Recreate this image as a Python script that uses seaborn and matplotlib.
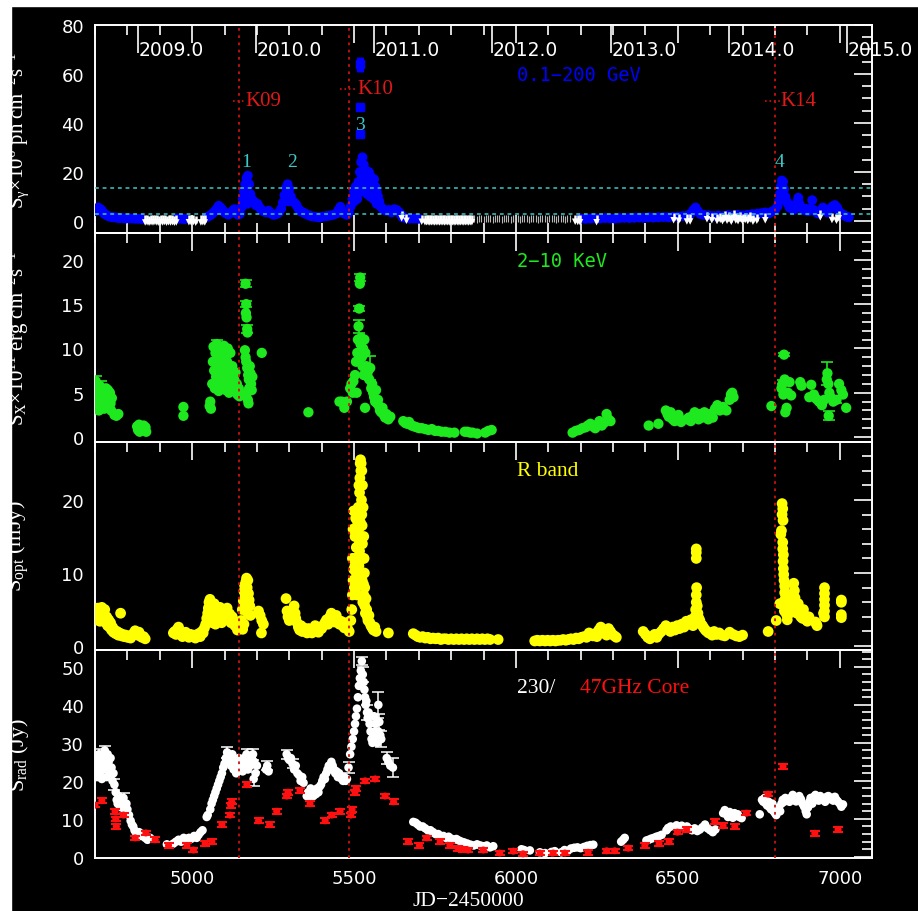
import numpy as np
import matplotlib
matplotlib.use("Agg")
import matplotlib.pyplot as plt
from matplotlib.patches import Rectangle
from matplotlib.ticker import MultipleLocator
import seaborn as sns

# ---- light curves: (JD-2450000, flux) ----
gamma_pts = [
    (4700, 4.0), (4705, 4.8), (4710, 5.5), (4715, 5.0), (4720, 4.5), (4725, 3.5), (4730, 2.8),
    (4738, 2.2), (4745, 1.8), (4752, 1.6), (4760, 1.5), (4768, 1.3), (4776, 1.2), (4785, 1.2),
    (4795, 1.0), (4805, 1.1), (4815, 1.0), (4825, 0.9), (4835, 0.9), (4845, 0.8),
    (4955, 1.0), (4962, 1.0), (4970, 0.9),
    (4978, 0.8), (5045, 1.5), (5052, 2.0), (5058, 2.5),
    (5064, 3.2), (5070, 4.0), (5076, 5.0), (5082, 6.2), (5088, 5.5), (5094, 4.5), (5100, 3.5),
    (5106, 3.0), (5112, 2.6), (5118, 3.2), (5124, 4.0), (5130, 4.8), (5136, 3.5), (5142, 2.5),
    (5148, 3.0), (5152, 5.5), (5156, 9.0), (5160, 12.0), (5164, 15.0), (5168, 17.5), (5172, 18.5),
    (5176, 15.0), (5180, 11.0), (5184, 9.0), (5165, 10.0), (5170, 7.0), (5175, 8.0), (5190, 8.0),
    (5196, 6.5), (5202, 7.0), (5208, 5.5), (5214, 4.5), (5220, 4.0), (5228, 3.5), (5236, 4.2),
    (5244, 3.0), (5252, 2.5), (5260, 2.8), (5268, 3.5), (5275, 5.0), (5280, 7.5), (5285, 10.5),
    (5290, 13.5), (5295, 15.0), (5300, 13.0), (5292, 9.0), (5298, 8.0), (5305, 10.0), (5310, 8.0),
    (5316, 7.5), (5322, 6.5), (5328, 5.0), (5335, 4.0), (5342, 3.5), (5350, 3.0), (5358, 2.5),
    (5366, 2.0), (5375, 1.8), (5385, 1.6), (5395, 1.5), (5405, 1.8), (5415, 2.0), (5425, 2.2),
    (5435, 2.5), (5445, 3.0), (5452, 4.5), (5458, 5.8), (5464, 4.0), (5470, 3.0), (5478, 2.5),
    (5484, 3.5), (5490, 6.0), (5495, 9.0), (5500, 12.0), (5505, 14.0), (5510, 13.0), (5514, 16.0),
    (5518, 20.0), (5522, 24.0), (5526, 26.0), (5530, 23.0), (5534, 21.0), (5538, 19.0),
    (5542, 17.0), (5546, 20.0), (5550, 18.5), (5554, 16.0), (5558, 14.0), (5562, 17.0),
    (5566, 14.0), (5570, 12.0), (5574, 10.0), (5578, 8.0), (5582, 6.0), (5500, 8.0), (5510, 9.0),
    (5520, 12.0), (5530, 14.0), (5540, 11.0), (5550, 10.0), (5560, 9.0), (5570, 7.0),
    (5525, 18.0), (5545, 14.0), (5588, 5.0), (5594, 4.5), (5600, 4.2), (5608, 4.5), (5616, 3.5),
    (5624, 4.8), (5632, 4.5), (5640, 3.5), (5646, 2.5), (5650, 1.5), (5660, 1.2), (5672, 1.0),
    (5685, 1.0), (5700, 0.9),
    (6200, 1.0), (6215, 0.9), (6230, 1.0), (6245, 1.1), (6260, 1.0), (6275, 1.2), (6290, 1.1),
    (6305, 1.0), (6320, 1.2), (6335, 1.3), (6350, 1.2), (6365, 1.3), (6380, 1.4), (6395, 1.3),
    (6410, 1.5), (6425, 1.4), (6440, 1.5), (6455, 1.6), (6470, 1.5), (6485, 1.7), (6500, 1.8),
    (6515, 2.0), (6530, 2.2), (6540, 3.0), (6548, 4.5), (6555, 5.5), (6562, 4.0), (6570, 2.8),
    (6580, 2.5), (6595, 2.3), (6610, 2.0), (6625, 2.2), (6640, 2.0), (6655, 2.4), (6670, 2.2),
    (6685, 2.5), (6700, 2.3), (6715, 2.5), (6730, 2.8), (6745, 3.0), (6758, 3.2), (6770, 3.5),
    (6780, 3.0), (6790, 3.8), (6800, 4.5), (6808, 6.0), (6812, 8.0), (6815, 11.0), (6818, 14.0),
    (6821, 16.5), (6825, 16.0), (6828, 13.0), (6832, 10.0), (6836, 8.0), (6840, 7.0), (6845, 5.5),
    (6850, 6.0), (6856, 4.5), (6862, 5.0), (6868, 7.5), (6872, 9.5), (6876, 7.0), (6882, 5.5),
    (6888, 4.5), (6895, 5.0), (6902, 4.0), (6910, 5.0), (6915, 8.5), (6920, 4.5), (6928, 3.5),
    (6935, 3.0), (6942, 4.0), (6948, 5.5), (6955, 4.0), (6962, 3.5), (6970, 5.0), (6978, 6.0),
    (6985, 6.5), (6992, 5.5), (6998, 3.8), (7005, 3.0), (7012, 2.5), (7020, 1.8), (7028, 1.5),
]
# the three bright points of flare 3 (value, half height of the bar)
gamma_flare = [(5519, 64.0, 3.0), (5519, 46.5, 1.5), (5519, 35.5, 1.5)]

# upper limits (white arrows) and the densely sampled, fainter ones
gamma_ul = [
    (4855, 2.3), (4861, 2.4), (4867, 2.2), (4873, 2.4), (4879, 2.3), (4885, 2.5), (4891, 2.3),
    (4897, 2.2), (4903, 2.4), (4909, 2.3), (4915, 2.5), (4921, 2.2), (4927, 2.4), (4933, 2.3),
    (4939, 2.4), (4945, 2.2), (4951, 2.3), (4990, 2.4), (4997, 2.3), (5004, 2.5), (5011, 2.2),
    (5027, 2.3), (5033, 2.4), (5039, 2.3),
    (5647, 4.0), (5662, 3.0), (5709, 2.6), (5719, 2.4), (5724, 2.4), (5729, 2.4), (5734, 2.3),
    (5739, 2.4), (5744, 2.4), (5749, 2.3), (5754, 2.4), (5759, 2.4), (5764, 2.3), (5769, 2.4),
    (5774, 2.4), (5779, 2.3), (5784, 2.4), (5789, 2.4), (5794, 2.3), (5799, 2.4), (5804, 2.4),
    (5809, 2.3), (5814, 2.4), (5819, 2.4), (5824, 2.3), (5829, 2.4), (5834, 2.4), (5839, 2.3),
    (5844, 2.4), (5849, 2.4), (5854, 2.3), (5859, 2.4), (5864, 2.4),
    (6183, 2.6), (6191, 2.5), (6198, 2.4), (6249, 2.4),
    (6487, 3.2), (6503, 3.0), (6528, 2.7), (6538, 2.7), (6590, 3.6), (6605, 3.2), (6621, 2.9),
    (6631, 3.4), (6638, 2.8), (6645, 4.0), (6652, 3.0), (6658, 3.6), (6665, 2.6), (6672, 4.4),
    (6679, 3.1), (6686, 2.8), (6693, 3.7), (6700, 2.7), (6708, 3.3), (6716, 2.9), (6724, 3.5),
    (6732, 2.6), (6744, 3.0), (6770, 3.2), (6940, 4.4), (6976, 3.3), (6990, 3.0), (6997, 4.0),
]
gamma_ul_faint = [
    (5872, 2.3), (5879, 2.2), (5886, 2.4), (5893, 2.3), (5900, 2.2), (5907, 2.3), (5914, 2.4),
    (5921, 2.3), (5928, 2.2), (5935, 2.3), (5942, 2.4), (5949, 2.3), (5956, 2.2), (5963, 2.3),
    (5970, 2.4), (5977, 2.3), (5984, 2.2), (5991, 2.3), (5998, 2.4), (6005, 2.3), (6012, 2.2),
    (6019, 2.3), (6026, 2.4), (6033, 2.3), (6040, 2.2), (6047, 2.3), (6054, 2.4), (6061, 2.3),
    (6068, 2.2), (6075, 2.3), (6082, 2.4), (6089, 2.3), (6096, 2.2), (6103, 2.3), (6110, 2.4),
    (6117, 2.3), (6124, 2.2), (6131, 2.3), (6138, 2.4), (6145, 2.3), (6152, 2.2), (6159, 2.3),
    (6166, 2.4),
]

xray_pts = [
    (4700, 5.5), (4702, 6.3), (4704, 4.5), (4706, 3.5), (4708, 5.0), (4710, 4.2), (4712, 3.0),
    (4714, 5.8), (4716, 4.0), (4718, 3.4), (4720, 4.8), (4722, 5.5), (4724, 3.8), (4726, 4.5),
    (4728, 3.2), (4730, 5.2), (4732, 4.0), (4734, 5.5), (4736, 3.6), (4738, 4.6), (4740, 5.3),
    (4742, 3.3), (4744, 4.2), (4746, 5.0), (4748, 3.8), (4750, 3.0), (4752, 4.4),
    (4760, 2.5), (4766, 2.4), (4772, 2.6),
    (4830, 1.2), (4833, 0.8), (4836, 1.4), (4838, 0.6), (4850, 1.3), (4853, 0.9), (4856, 1.1),
    (4858, 0.6), (4973, 3.4), (4973, 2.4), (5054, 3.5), (5056, 4.0), (5058, 3.2),
    (5062, 6.0), (5064, 8.5), (5066, 10.2), (5068, 7.5), (5070, 5.5), (5072, 9.5), (5074, 6.8),
    (5076, 10.5), (5078, 8.0), (5080, 6.2), (5082, 5.2), (5084, 9.0), (5086, 7.2), (5088, 10.0),
    (5090, 6.5), (5092, 8.8), (5094, 5.5), (5096, 7.8), (5098, 10.3), (5100, 6.0), (5102, 9.2),
    (5104, 5.3), (5106, 7.0), (5108, 8.5), (5110, 10.0), (5112, 6.3), (5114, 5.0), (5116, 7.5),
    (5118, 9.5), (5120, 6.8), (5122, 5.5), (5124, 8.0), (5126, 7.0), (5128, 5.8), (5130, 6.5),
    (5132, 5.2), (5134, 7.3), (5136, 5.6), (5138, 6.0), (5140, 4.8), (5144, 5.5), (5146, 4.6),
    (5165, 17.3), (5167, 15.0), (5166, 14.0), (5168, 13.5), (5170, 12.2), (5171, 11.8),
    (5163, 9.8), (5165, 9.0), (5167, 8.5), (5170, 7.8), (5173, 7.0), (5175, 6.5), (5178, 8.0),
    (5180, 7.2), (5182, 6.0), (5176, 5.5), (5169, 5.0), (5172, 4.2), (5174, 3.8), (5184, 5.3),
    (5186, 6.8), (5215, 9.5), (5359, 2.8),
    (5455, 4.0), (5462, 4.0), (5470, 3.3), (5478, 4.0), (5488, 5.5), (5492, 6.0), (5496, 5.0),
    (5498, 6.3), (5503, 7.0), (5506, 8.5), (5508, 5.0), (5510, 9.5), (5512, 11.0), (5514, 12.5),
    (5516, 14.5), (5518, 17.3), (5519, 18.0), (5520, 10.5), (5522, 11.2), (5524, 9.0),
    (5526, 8.0), (5528, 10.0), (5530, 7.0), (5532, 11.0), (5534, 3.3), (5535, 9.5), (5538, 8.0),
    (5541, 7.0), (5544, 7.5), (5547, 6.5), (5550, 7.8), (5553, 5.5), (5556, 6.0), (5559, 5.0),
    (5562, 4.5), (5565, 4.0), (5568, 5.3), (5571, 3.8), (5574, 4.2), (5577, 3.5), (5580, 3.0),
    (5584, 2.8), (5588, 3.3), (5592, 2.5), (5596, 2.2), (5600, 2.6), (5606, 2.0), (5612, 2.3),
    (5652, 1.8), (5658, 1.6), (5664, 1.5), (5670, 1.7), (5678, 1.3), (5686, 1.2), (5694, 1.1),
    (5702, 1.0), (5710, 1.0), (5720, 0.9), (5730, 0.8), (5740, 0.9), (5750, 0.7), (5760, 0.7),
    (5770, 0.6), (5782, 0.6), (5795, 0.5), (5810, 0.5), (5842, 0.6), (5850, 0.6), (5858, 0.5),
    (5866, 0.5), (5880, 0.4), (5905, 0.5), (5915, 0.7), (5925, 0.8),
    (6175, 0.5), (6185, 0.7), (6195, 0.8), (6205, 1.0), (6215, 1.1), (6222, 1.3), (6230, 1.5),
    (6238, 1.2), (6245, 1.0), (6252, 1.4), (6258, 1.8), (6265, 1.3), (6272, 1.6), (6280, 2.6),
    (6286, 2.0), (6292, 1.8), (6410, 1.3), (6440, 1.5),
    (6463, 3.0), (6468, 2.6), (6472, 2.3), (6478, 2.8), (6484, 2.0), (6490, 1.8), (6496, 2.2),
    (6502, 2.5), (6510, 1.7), (6528, 2.0), (6534, 2.2), (6540, 1.8), (6546, 2.4), (6552, 2.8),
    (6558, 2.3), (6564, 2.0), (6570, 2.6), (6576, 2.2), (6582, 2.8), (6588, 2.4), (6594, 2.0),
    (6600, 2.6), (6608, 2.2), (6615, 3.2), (6622, 3.6), (6630, 3.0), (6640, 3.4), (6650, 3.0),
    (6660, 4.2), (6664, 4.8), (6668, 5.0), (6672, 4.5), (6789, 3.5),
    (6820, 5.5), (6823, 6.0), (6826, 4.8), (6828, 9.3), (6830, 6.5), (6832, 2.8), (6836, 3.3),
    (6840, 5.0), (6845, 6.2), (6850, 4.7), (6878, 6.2), (6882, 5.8), (6912, 5.9), (6906, 4.5),
    (6920, 4.8), (6928, 4.3), (6936, 4.0), (6945, 3.6), (6952, 4.2), (6960, 6.5), (6962, 7.2),
    (6965, 6.0), (6968, 5.0), (6966, 2.4), (6972, 4.5), (6980, 4.0), (6990, 4.2), (6998, 6.0),
    (7005, 5.3), (7010, 4.8), (7020, 3.3),
]
xray_err = [(4702, 6.3, 0.6), (4720, 5.5, 0.8), (5076, 10.5, 0.5), (5165, 17.3, 0.4),
            (5167, 15.0, 0.3), (5170, 12.2, 0.4), (5519, 18.0, 0.4), (5516, 14.5, 0.3),
            (5514, 12.5, 0.7), (5550, 7.8, 1.4), (6828, 9.3, 0.2), (6826, 6.2, 0.2),
            (6962, 7.2, 1.3), (6966, 2.4, 0.5), (6990, 4.2, 0.3)]

opt_pts = [
    (4700, 4.0), (4703, 4.8), (4706, 3.6), (4709, 5.2), (4712, 4.2), (4715, 3.4), (4718, 4.6),
    (4721, 5.3), (4724, 3.8), (4727, 4.4), (4730, 5.0), (4733, 3.2), (4736, 4.0), (4739, 2.8),
    (4742, 3.6), (4745, 2.6), (4748, 3.2), (4751, 2.2), (4754, 2.6), (4757, 1.9), (4760, 2.2),
    (4764, 1.7), (4768, 2.0), (4772, 1.5), (4776, 1.8), (4779, 4.5), (4782, 1.4), (4786, 1.6),
    (4790, 1.3), (4795, 1.5), (4800, 1.2), (4805, 1.4), (4810, 1.1), (4815, 1.5), (4820, 1.8),
    (4824, 2.1), (4828, 1.7), (4832, 1.5), (4836, 1.9), (4840, 1.4), (4845, 1.2), (4850, 1.3),
    (4855, 1.0),
    (4942, 1.8), (4946, 2.0), (4950, 1.6), (4954, 2.3), (4958, 2.6), (4962, 2.0), (4966, 1.6),
    (4970, 1.3), (4975, 1.5), (4980, 1.9), (4985, 1.4), (4990, 1.2), (4995, 1.6), (5000, 1.3),
    (5005, 1.5), (5010, 1.1), (5015, 1.4), (5020, 1.7), (5025, 1.3), (5030, 2.0), (5034, 1.8),
    (5038, 2.5), (5042, 3.0), (5045, 3.8), (5048, 4.5), (5050, 5.2), (5052, 6.0), (5055, 6.4),
    (5058, 5.5), (5060, 4.0), (5062, 3.2), (5065, 4.8), (5068, 5.8), (5070, 4.4), (5072, 3.0),
    (5075, 5.0), (5078, 4.2), (5080, 3.5), (5083, 4.6), (5086, 5.3), (5088, 4.0), (5091, 3.2),
    (5094, 4.5), (5097, 3.8), (5100, 4.6), (5104, 4.2), (5108, 5.2), (5112, 3.8), (5116, 4.4),
    (5120, 3.2), (5124, 4.0), (5128, 3.5), (5132, 2.8), (5136, 3.2), (5140, 2.2), (5144, 3.0),
    (5148, 2.5), (5152, 3.5), (5155, 5.0), (5158, 6.2), (5160, 7.5), (5162, 8.3), (5164, 7.0),
    (5166, 8.8), (5168, 9.3), (5170, 8.0), (5172, 9.0), (5174, 7.2), (5176, 6.3), (5178, 5.5),
    (5172, 4.5), (5168, 5.8), (5165, 6.8), (5180, 4.2), (5160, 3.0), (5156, 2.3),
    (5205, 4.8), (5210, 4.2), (5215, 3.5), (5220, 3.0), (5214, 1.8),
    (5290, 6.5), (5293, 4.8), (5296, 4.0), (5300, 3.5), (5315, 5.5), (5318, 4.5), (5320, 3.8),
    (5324, 3.2), (5328, 2.6), (5332, 2.2), (5336, 2.8), (5340, 2.0), (5345, 2.5), (5350, 2.2),
    (5355, 1.8), (5360, 2.4), (5365, 2.0), (5370, 1.8), (5375, 2.4), (5380, 2.8), (5385, 2.2),
    (5390, 1.9), (5395, 2.6), (5400, 2.4), (5405, 2.8), (5410, 3.2), (5415, 3.6), (5420, 3.0),
    (5425, 4.0), (5430, 4.5), (5435, 3.8), (5440, 3.3), (5445, 4.2), (5450, 3.6), (5455, 3.0),
    (5460, 3.4), (5465, 2.8), (5470, 2.5), (5475, 3.2), (5480, 2.4), (5485, 2.0),
    (5490, 3.5), (5493, 5.0), (5495, 7.0), (5497, 9.0), (5499, 10.5), (5501, 12.0), (5503, 11.0),
    (5505, 8.0), (5507, 13.5), (5509, 15.0), (5511, 17.0), (5513, 19.0), (5514, 16.0),
    (5516, 14.0), (5517, 21.0), (5518, 23.0), (5519, 25.0), (5520, 25.5), (5521, 24.0),
    (5522, 22.0), (5523, 20.0), (5524, 18.0), (5525, 16.5), (5526, 14.0), (5527, 12.0),
    (5528, 10.0), (5529, 8.5), (5530, 7.0), (5495, 12.0), (5497, 16.0), (5499, 18.5),
    (5501, 8.0), (5503, 15.0), (5505, 17.5), (5507, 10.0), (5509, 7.0), (5511, 12.0),
    (5513, 9.0), (5515, 11.0), (5517, 13.0), (5519, 17.0), (5521, 19.0), (5523, 12.0),
    (5525, 9.0), (5527, 6.0), (5515, 22.0), (5522, 25.0), (5524, 24.0), (5526, 22.0),
    (5528, 19.0), (5530, 15.0), (5531, 12.0), (5532, 10.0), (5533, 8.0), (5531, 6.0),
    (5533, 5.5), (5535, 4.5), (5537, 6.5), (5539, 5.0), (5541, 4.0), (5543, 3.5), (5546, 4.2),
    (5549, 3.2), (5552, 2.8), (5556, 2.5), (5560, 2.2), (5564, 2.6), (5568, 2.0), (5606, 1.8),
    (5683, 1.7), (5690, 1.5), (5697, 1.3), (5704, 1.2), (5712, 1.3), (5720, 1.1), (5728, 1.2),
    (5736, 1.0), (5744, 1.1), (5752, 1.0), (5760, 1.1), (5768, 0.9), (5776, 1.0), (5784, 1.0),
    (5792, 0.9), (5800, 1.0), (5808, 0.9), (5816, 1.0), (5824, 0.9), (5832, 1.0), (5840, 0.9),
    (5848, 1.0), (5856, 0.9), (5864, 1.0), (5872, 0.9), (5880, 1.0), (5888, 0.9), (5896, 1.0),
    (5904, 0.9), (5912, 1.0), (5920, 0.9), (5945, 0.9),
    (6058, 0.7), (6066, 0.8), (6074, 0.7), (6082, 0.8), (6090, 0.7), (6098, 0.8), (6106, 0.7),
    (6114, 0.8), (6122, 0.7), (6130, 0.8), (6138, 0.8), (6146, 0.9), (6154, 0.8), (6162, 0.9),
    (6170, 1.0), (6178, 0.9), (6186, 1.1), (6194, 1.0), (6202, 1.2), (6210, 1.3), (6218, 1.2),
    (6226, 1.8), (6232, 1.5), (6238, 1.4), (6244, 1.7), (6250, 1.3), (6256, 2.2), (6262, 2.6),
    (6268, 1.8), (6274, 2.0), (6280, 1.5), (6286, 2.4), (6292, 2.0), (6298, 1.6), (6304, 1.4),
    (6310, 1.2),
    (6393, 2.0), (6400, 1.6), (6407, 1.2), (6414, 1.0), (6421, 1.3), (6428, 1.6), (6435, 1.2),
    (6442, 1.7), (6449, 2.0), (6456, 2.4), (6463, 2.8), (6470, 2.3), (6477, 2.0), (6484, 2.6),
    (6491, 2.2), (6498, 2.8), (6505, 2.4), (6512, 3.0), (6519, 2.6), (6526, 3.4), (6533, 3.0),
    (6540, 3.6), (6547, 2.8), (6553, 4.0), (6555, 5.0), (6557, 6.0), (6557, 7.0), (6558, 8.0),
    (6557, 12.0), (6557, 12.8), (6557, 13.3), (6560, 5.5), (6562, 4.5), (6565, 3.8),
    (6568, 3.5), (6572, 3.0), (6576, 2.8), (6580, 2.5), (6585, 2.2), (6590, 2.0), (6595, 1.8),
    (6600, 1.8), (6606, 1.5), (6612, 2.0), (6620, 1.6), (6628, 1.8), (6636, 1.5), (6645, 1.4),
    (6660, 1.9), (6670, 1.6), (6680, 1.4), (6690, 1.3), (6700, 1.5),
    (6779, 2.0), (6804, 3.5), (6815, 5.8),
    (6822, 19.5), (6824, 18.8), (6822, 18.0), (6825, 17.2), (6820, 15.8), (6818, 15.3),
    (6824, 14.2), (6824, 13.3), (6826, 12.5), (6825, 11.6), (6826, 10.6), (6827, 9.8),
    (6828, 9.0), (6830, 8.2), (6830, 7.3), (6832, 6.5), (6834, 5.8), (6835, 5.0), (6836, 4.3),
    (6838, 3.6), (6829, 4.8), (6826, 6.0), (6840, 5.5),
    (6845, 4.5), (6850, 6.0), (6855, 7.0), (6858, 8.6), (6860, 7.6), (6862, 6.6), (6865, 5.4),
    (6868, 4.5), (6872, 5.8), (6875, 4.8), (6880, 4.0), (6885, 3.8), (6888, 5.0), (6892, 4.2),
    (6896, 3.6), (6900, 3.4), (6905, 4.0), (6925, 3.3), (6928, 3.0), (6930, 2.8),
    (6953, 8.0), (6953, 7.2), (6953, 6.4), (6953, 5.6), (6953, 4.8), (6953, 4.0), (6950, 4.5),
    (7005, 6.3), (7005, 6.0), (7005, 3.9), (7005, 4.3),
]

rad230_pts = [
    (4700, 23), (4703, 26), (4706, 21), (4709, 24), (4712, 27), (4715, 22), (4718, 25),
    (4721, 20.5), (4724, 26), (4727, 23), (4730, 28), (4733, 24), (4736, 21), (4739, 27),
    (4742, 25), (4745, 22), (4748, 26), (4751, 23.5), (4754, 20), (4757, 22), (4760, 19),
    (4764, 17), (4767, 15), (4770, 14), (4773, 16), (4776, 13.5), (4779, 15), (4782, 13),
    (4785, 14.5), (4788, 15.5), (4791, 13), (4794, 12), (4797, 14), (4800, 12.5), (4805, 11),
    (4810, 9.5), (4814, 8.5), (4818, 8), (4822, 7), (4826, 6.5), (4830, 6), (4836, 6.5),
    (4842, 5.5), (4848, 6), (4855, 5), (4862, 4.5), (4870, 5),
    (4922, 3.3), (4942, 3.5), (4950, 4), (4958, 4.5), (4966, 4), (4974, 5), (4982, 4.5),
    (4990, 5), (4998, 4.8), (5006, 5.5), (5014, 5), (5020, 5.8), (5026, 6.5), (5032, 7),
    (5045, 10.5), (5048, 11), (5056, 12.5), (5060, 14), (5064, 15), (5068, 16), (5072, 17),
    (5076, 18), (5080, 19), (5084, 20), (5088, 21), (5092, 22), (5096, 23.5), (5100, 24.5),
    (5104, 26), (5108, 27.5), (5112, 26), (5116, 25), (5120, 24), (5124, 27), (5128, 23),
    (5132, 25.5), (5136, 22), (5140, 24), (5144, 26), (5148, 23), (5152, 25), (5156, 22.5),
    (5160, 26), (5164, 24), (5168, 27), (5172, 23), (5176, 25), (5180, 24), (5184, 26),
    (5188, 27), (5192, 25), (5196, 22), (5200, 24), (5190, 20.5),
    (5228, 23), (5232, 24), (5236, 22.5),
    (5292, 27), (5296, 26), (5300, 25.5), (5305, 26), (5310, 24.5), (5315, 23), (5320, 24),
    (5325, 22), (5330, 21.5), (5335, 20), (5340, 21), (5344, 19.5),
    (5354, 16), (5358, 17), (5362, 16), (5366, 18), (5370, 17), (5374, 16), (5378, 17.5),
    (5382, 16.5), (5386, 18), (5390, 17), (5394, 18.5), (5398, 19), (5402, 20), (5406, 21),
    (5410, 20.5), (5414, 22), (5418, 23), (5422, 24), (5426, 23), (5430, 25), (5434, 24),
    (5438, 23), (5442, 22), (5446, 22.5), (5450, 21), (5454, 22), (5458, 21), (5462, 20.5),
    (5466, 20), (5470, 21), (5474, 20), (5478, 20.5), (5483, 23.5),
    (5488, 27), (5492, 29), (5496, 31), (5500, 33), (5503, 35), (5506, 37), (5509, 39),
    (5512, 42), (5515, 45), (5518, 47), (5521, 49), (5524, 51.5), (5527, 48), (5530, 46),
    (5532, 44), (5534, 42), (5536, 40), (5538, 41), (5540, 38), (5542, 36.5), (5545, 38),
    (5548, 35), (5551, 33), (5554, 31), (5557, 30), (5560, 32), (5563, 31), (5566, 33),
    (5569, 32), (5572, 30), (5575, 33), (5578, 31), (5581, 32), (5584, 31), (5575, 40),
    (5578, 35.5), (5562, 37), (5566, 35), (5601, 26), (5606, 25), (5612, 24), (5620, 23.5),
    (5683, 9.2), (5690, 9), (5697, 8.5), (5704, 8), (5712, 8), (5720, 7.5), (5728, 7),
    (5736, 7), (5744, 6.5), (5752, 6), (5760, 6), (5768, 5.5), (5776, 5.5), (5784, 5),
    (5792, 5.3), (5800, 4.8), (5808, 4.5), (5816, 4.7), (5824, 4.3), (5832, 4), (5840, 3.8),
    (5850, 3.5), (5860, 3.2), (5870, 3), (5880, 3.3), (5890, 3), (5900, 2.8), (5910, 3),
    (5920, 2.5), (5930, 2.8), (6017, 2), (6025, 1.8), (6043, 1.7), (6074, 1.2), (6090, 1.0),
    (6110, 1.3), (6120, 1.5), (6140, 1.2), (6150, 1.8), (6160, 1.6), (6170, 2.2), (6180, 2.4),
    (6190, 2.5), (6200, 2.3), (6210, 2.6), (6220, 2.9), (6230, 3.1), (6239, 3.2),
    (6325, 4.0), (6331, 4.5), (6336, 5.0), (6403, 4.3), (6410, 4.5), (6418, 4.8), (6426, 5.0),
    (6434, 5.3), (6442, 5.5), (6450, 5.8), (6465, 7.0), (6470, 7.6), (6478, 8.0),
    (6496, 8.3), (6505, 7.8), (6512, 8.2), (6520, 7.6), (6528, 8.0), (6536, 7.4), (6544, 7.0),
    (6552, 7.5), (6560, 6.8), (6568, 7.2), (6576, 7.8), (6584, 8.5), (6592, 7.5), (6600, 7.0),
    (6608, 6.5), (6616, 7.2), (6640, 11.5), (6645, 12.3), (6650, 11.2), (6655, 10.5),
    (6660, 11.8), (6665, 11.0), (6670, 10.3), (6675, 11.5), (6680, 10.8), (6685, 11.2),
    (6690, 10.5), (6697, 10.2), (6753, 11.2),
    (6760, 15), (6764, 14.5), (6768, 15.5), (6772, 14), (6776, 13.5), (6780, 14.5), (6784, 13),
    (6788, 12.5), (6792, 14), (6796, 12), (6800, 11.5), (6804, 11), (6808, 12.5), (6812, 13),
    (6816, 12), (6820, 14), (6824, 15), (6828, 14.5), (6832, 15.5), (6836, 14.8), (6840, 15.2),
    (6845, 14.5), (6850, 15.6), (6855, 16.3), (6860, 15), (6865, 14.6), (6870, 15.5),
    (6875, 16), (6880, 15.2), (6885, 14), (6890, 13.2), (6895, 12), (6898, 11.2), (6902, 13),
    (6906, 14.5), (6910, 15.5), (6915, 14), (6920, 15.8), (6925, 16.3), (6930, 15.5),
    (6935, 14.8), (6940, 16), (6945, 15.5), (6950, 15), (6955, 14.5), (6960, 15.8), (6965, 16),
    (6970, 15.2), (6975, 15.5), (6980, 14.8), (6985, 15.8), (6990, 15), (6995, 14.5),
    (7000, 14), (7005, 13.2), (7010, 13.8),
]
rad230_err = [(4712, 27, 1.5), (4730, 28, 1.2), (4760, 19, 1.5), (4788, 15.5, 1.2),
              (5108, 27.5, 1.5), (5168, 27, 1.5), (5188, 27, 1.5), (5190, 20.5, 1.8),
              (5232, 24, 1.2), (5292, 27, 1.2), (5310, 24.5, 1.2), (5483, 23.5, 1.5),
              (5524, 51.5, 1.0), (5527, 48, 2.0), (5540, 38, 2.0), (5575, 40, 3.5),
              (5578, 35.5, 2.0), (5584, 31, 2.0), (5601, 26, 1.5), (5620, 23.5, 2.5)]

core47_pts = [
    (4700, 13.6), (4721, 14.8), (4762, 12), (4764, 10), (4766, 8), (4788, 11), (4824, 5),
    (4857, 6.3), (4886, 4.5), (4927, 3.0), (4984, 3.0), (5004, 1.8), (5040, 3.5), (5061, 4.0),
    (5092, 8.5), (5117, 11), (5119, 13.5), (5122, 14.5), (5169, 19), (5205, 9.5), (5239, 8.5),
    (5261, 12), (5292, 16), (5296, 17), (5333, 17.5), (5364, 14), (5411, 9.5), (5431, 11),
    (5457, 12), (5490, 11), (5494, 12.5), (5503, 17), (5507, 18), (5534, 20), (5565, 20.5),
    (5596, 16), (5622, 14.5), (5668, 4), (5702, 3), (5724, 5), (5766, 4), (5796, 3),
    (5822, 2.2), (5837, 2), (5852, 1.8), (5899, 1.8), (5950, 1), (5992, 1.5), (6022, 0.8),
    (6074, 1), (6115, 1), (6151, 1), (6223, 1.2), (6280, 1.6), (6305, 1.6), (6347, 2.3),
    (6398, 3), (6442, 3.5), (6473, 4), (6499, 6.5), (6527, 7.2), (6614, 9.3), (6640, 8.2),
    (6676, 8), (6712, 11.5), (6779, 16.5), (6825, 23.8), (6923, 6.2), (6995, 7.2),
]

knot_names = ["K09", "K10", "K14"]
knot_jd = [5145, 5483, 6792]
knot_jd_err = [18, 26, 23]
knot_flux = [49, 54, 49]
knot_line_jd = [5145, 5485, 6800]

flare_ids = ["1", "2", "3", "4"]
flare_jd = [5167, 5308, 5519, 6815]
flare_y = [24.4, 24.4, 39.2, 24.1]
gamma_levels = [13.6, 2.8]

year_labels = ["2009.0", "2010.0", "2011.0", "2012.0", "2013.0", "2014.0", "2015.0"]
year_jd = [4832.5, 5197.5, 5562.5, 5927.5, 6293.5, 6658.5, 7023.5]

RED_LINE = "#d01010"
CYAN = "#3cc8c8"
SERIF = "Liberation Serif"

sns.set_theme(style="dark", rc={
    "axes.facecolor": "none", "figure.facecolor": "black",
    "axes.edgecolor": "white", "axes.labelcolor": "white",
    "xtick.color": "white", "ytick.color": "white", "text.color": "white",
    "axes.grid": False,
})
plt.rcParams["font.family"] = ["DejaVu Sans"]
plt.rcParams["mathtext.default"] = "regular"

fig, axes = plt.subplots(4, 1, figsize=(9.18, 9.12), dpi=100, sharex=True)
fig.subplots_adjust(left=0.1035, right=0.95, top=0.9715, bottom=0.0581, hspace=0)
fig.patches.append(Rectangle((0, 0), 11 / 918, 1, transform=fig.transFigure,
                             color="white", zorder=-1))
fig.patches.append(Rectangle((0, 1 - 7 / 912), 1, 7 / 912, transform=fig.transFigure,
                             color="white", zorder=-1))


def unzip(pts):
    return [list(c) for c in zip(*pts)]


# ---- panel 1: gamma rays ----
ax = axes[0]
gjd, gval = unzip(gamma_pts)
sns.scatterplot(x=gjd, y=gval, ax=ax, marker="o", s=50, color="#0000ff",
                edgecolor="none", linewidth=0, zorder=3)
fjd, fval, ferr = unzip(gamma_flare)
ax.errorbar(fjd, fval, yerr=ferr, fmt="s", ms=6, color="#0000ff",
            elinewidth=5, capsize=0, zorder=3)
ujd, uval = unzip(gamma_ul_faint)
ax.vlines(ujd, np.array(uval) - 2.9, uval, color="#b8b8b8", lw=0.8, zorder=4)
ujd, uval = unzip(gamma_ul)
ax.vlines(ujd, np.array(uval) - 2.9, uval, color="white", lw=1.8, zorder=4)
sns.scatterplot(x=ujd, y=np.array(uval) - 2.9, ax=ax, marker="v", s=22,
                color="white", edgecolor="none", zorder=4)
for lvl in gamma_levels:
    ax.axhline(lvl, color=CYAN, lw=1.1, ls=(0, (2.5, 2.5)), zorder=5)
for k in range(len(flare_ids)):
    ax.text(flare_jd[k], flare_y[k], flare_ids[k], color=CYAN, fontsize=14,
            family=SERIF, ha="center", va="center", zorder=6)
ax.hlines(knot_flux, np.array(knot_jd) - np.array(knot_jd_err),
          np.array(knot_jd) + np.array(knot_jd_err), color=RED_LINE, lw=1.2,
          linestyles=":", zorder=6)
for k in range(len(knot_names)):
    ax.text(knot_jd[k] + knot_jd_err[k] + 2, knot_flux[k], knot_names[k], color="#e01818",
            fontsize=15, family=SERIF, ha="left", va="center", zorder=6)
ax.text(6003, 0.76, "0.1\u2212200 GeV", color="#0000ff", fontsize=13.5,
        family="DejaVu Sans Mono", transform=ax.get_xaxis_transform(), va="center")
ax.set_ylim(-5, 80)
ax.yaxis.set_major_locator(MultipleLocator(20))
ax.yaxis.set_minor_locator(MultipleLocator(5))
ax.set_ylabel(r"S$_\gamma$$\times$10$^6$ ph cm$^{-2}$s$^{-1}$", fontsize=15, family=SERIF)

top = ax.twiny()
top.set_xlim(4700, 7100)
top.set_xticks(year_jd)
top.tick_params(axis="x", direction="in", length=20, width=1.2, colors="white",
                labeltop=False, top=True)
top.xaxis.set_minor_locator(plt.NullLocator())
for sp in top.spines.values():
    sp.set_visible(False)
for lab, jd in zip(year_labels, year_jd):
    ax.text(jd + 2, 0.88, lab, color="white", fontsize=13.5,
            transform=ax.get_xaxis_transform(), ha="left", va="center", zorder=6)

# ---- panel 2: X-rays ----
ax = axes[1]
ejd, eval_, eerr = unzip(xray_err)
ax.errorbar(ejd, eval_, yerr=eerr, fmt="none", ecolor="#1ee81e", elinewidth=1.2,
            capsize=4, capthick=1.2, zorder=3)
xjd, xval = unzip(xray_pts)
sns.scatterplot(x=xjd, y=xval, ax=ax, marker="o", s=55, color="#1ee81e",
                edgecolor="none", linewidth=0, zorder=3)
ax.text(6003, 0.87, "2\u221210 KeV", color="#1ee81e", fontsize=13.5,
        family="DejaVu Sans Mono", transform=ax.get_xaxis_transform(), va="center")
ax.set_ylim(-0.5, 23)
ax.yaxis.set_major_locator(MultipleLocator(5))
ax.yaxis.set_minor_locator(MultipleLocator(1))
ax.set_ylabel(r"S$_X$$\times$10$^{11}$ erg cm$^{-2}$s$^{-1}$", fontsize=15, family=SERIF)

# ---- panel 3: optical R band ----
ax = axes[2]
ojd, oval = unzip(opt_pts)
sns.scatterplot(x=ojd, y=oval, ax=ax, marker="o", s=60, color="#ffff00",
                edgecolor="none", linewidth=0, zorder=3)
ax.text(6003, 0.86, "R band", color="#ffff00", fontsize=15.5,
        family=SERIF, transform=ax.get_xaxis_transform(), va="center")
ax.set_ylim(-0.5, 28)
ax.yaxis.set_major_locator(MultipleLocator(10))
ax.yaxis.set_minor_locator(MultipleLocator(2))
ax.set_ylabel(r"S$_{opt}$ (mJy)", fontsize=16, family=SERIF)

# ---- panel 4: radio ----
ax = axes[3]
rjd, rval, rerr = unzip(rad230_err)
ax.errorbar(rjd, rval, yerr=rerr, fmt="none", ecolor="white", elinewidth=1.1,
            capsize=4, capthick=1.1, zorder=3)
rjd, rval = unzip(rad230_pts)
sns.scatterplot(x=rjd, y=rval, ax=ax, marker="o", s=38, color="white",
                edgecolor="none", linewidth=0, zorder=3)
cjd, cval = unzip(core47_pts)
ax.errorbar(cjd, cval, yerr=0.6, fmt="none", ecolor="#ff1010", elinewidth=1.5,
            capsize=3.5, capthick=1.5, zorder=4)
sns.scatterplot(x=cjd, y=cval, ax=ax, marker="o", s=26, color="#ff1010",
                edgecolor="none", linewidth=0, zorder=4)
ax.text(6003, 0.82, "230/", color="white", fontsize=15.5, family=SERIF,
        transform=ax.get_xaxis_transform(), va="center")
ax.text(6198, 0.82, "47GHz Core", color="#ff1010", fontsize=15.5, family=SERIF,
        transform=ax.get_xaxis_transform(), va="center")
ax.set_ylim(-0.3, 54.5)
ax.yaxis.set_major_locator(MultipleLocator(10))
ax.yaxis.set_minor_locator(MultipleLocator(2))
ax.set_ylabel(r"S$_{rad}$ (Jy)", fontsize=16, family=SERIF)
ax.set_xlabel("JD\u22122450000", fontsize=15.5, family=SERIF)
ax.xaxis.set_label_coords(0.48, -0.16)

# ---- common frame / ticks ----
for ax in axes:
    ax.set_xlim(4700, 7100)
    ax.xaxis.set_major_locator(MultipleLocator(500))
    ax.xaxis.set_minor_locator(MultipleLocator(100))
    for x in knot_line_jd:
        ax.axvline(x, color=RED_LINE, lw=1.3, ls=(0, (1.5, 2.5)), zorder=5)
    ax.tick_params(which="both", direction="in", top=True, right=True,
                   colors="white", width=1.2, labelsize=13, pad=8)
    ax.tick_params(which="major", length=13)
    ax.tick_params(which="minor", length=7)
    for sp in ax.spines.values():
        sp.set_color("white")
        sp.set_linewidth(1.4)
    ax.yaxis.set_label_coords(-0.083, 0.5)

fig.savefig("out.png", dpi=100, facecolor="black")
